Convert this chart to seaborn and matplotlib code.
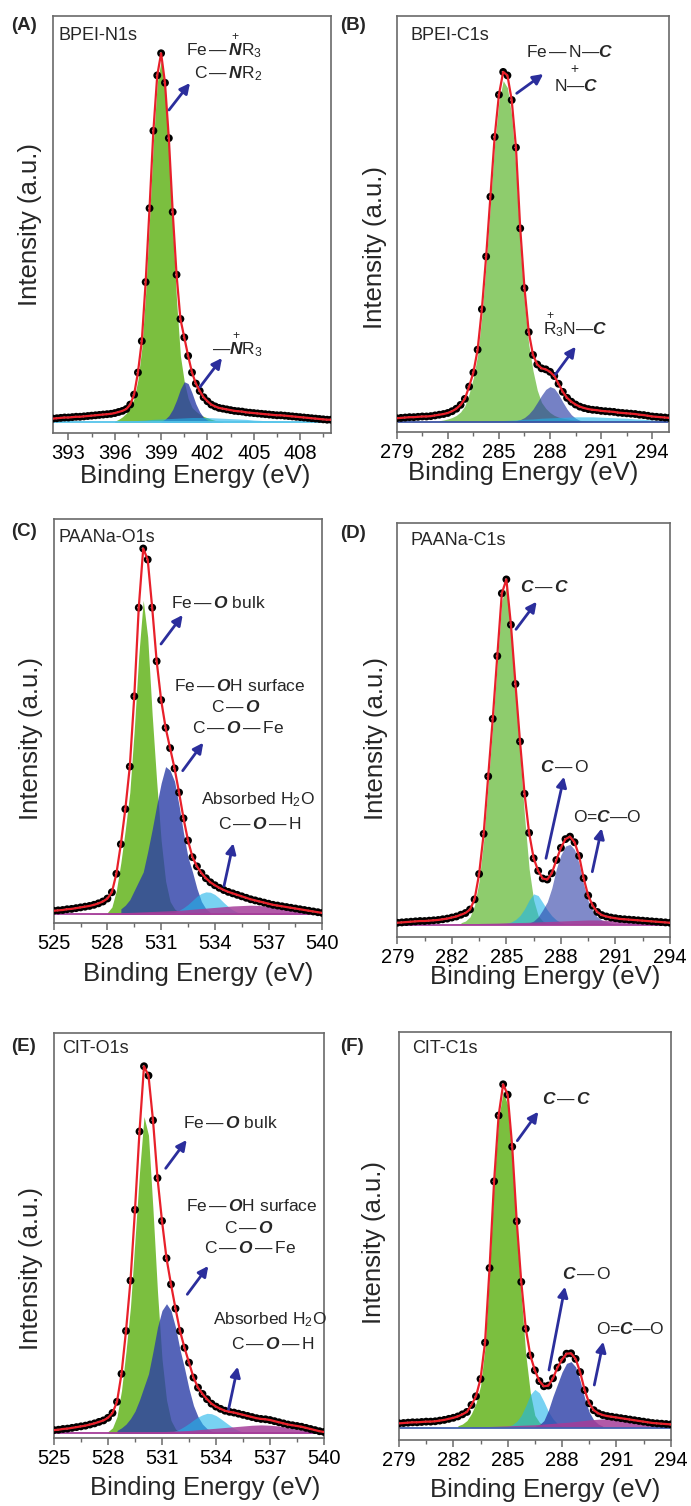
import numpy as np
import matplotlib
matplotlib.use("Agg")
import matplotlib.pyplot as plt
from matplotlib.ticker import MultipleLocator
import seaborn as sns

# XPS spectra. Intensity is normalised so the main peak is ~100.
# Each series starts at *_start and runs in 0.25 eV steps (0.5 eV for the broad ones).

# (A) BPEI-N1s
a_start = 392.0
a_counts = [1.0, 1.1, 1.2, 1.3, 1.3, 1.4, 1.5, 1.5, 1.6, 1.7, 1.8, 1.9, 2.0, 2.1, 2.2, 2.3,
            2.5, 2.8, 3.1, 3.6, 4.8, 7.5, 13.5, 22, 38, 58, 79, 94, 100, 92, 77, 57,
            40, 28, 23, 18, 13.5, 10.5, 8.5, 6.8, 5.7, 4.8, 4.3, 3.9, 3.7, 3.5, 3.3, 3.1,
            3.0, 2.9, 2.7, 2.6, 2.5, 2.4, 2.3, 2.2, 2.1, 2.0, 1.9, 1.9, 1.8, 1.7, 1.6, 1.5,
            1.4, 1.3, 1.2, 1.1, 1.0, 0.9, 0.8, 0.7, 0.7]
a_green_start = 396.0
a_green = [0.3, 0.8, 1.5, 2.5, 4.0, 6.5, 11.5, 20, 35, 55, 76, 92, 98, 90, 74, 53,
           33, 18, 11, 6.5, 4.0, 3.0, 2.2, 1.6, 1.2, 0.8, 0.5, 0.3, 0.1]
a_blue_start = 399.0
a_blue = [0.3, 0.8, 1.8, 3.5, 6, 9, 11, 10.5, 8, 5, 2.8, 1.3, 0.6, 0.2]
a_cyan_start = 396.0
a_cyan = [0.1, 0.2, 0.3, 0.5, 0.6, 0.8, 0.9, 1.0, 1.1, 1.2, 1.3, 1.3, 1.3, 1.2, 1.1, 1.0,
          0.9, 0.8, 0.6, 0.5, 0.4, 0.3, 0.2, 0.1, 0.0]

# (B) BPEI-C1s
b_start = 279.0
b_counts = [1.0, 1.1, 1.2, 1.3, 1.3, 1.4, 1.5, 1.5, 1.6, 1.8, 2.0, 2.2, 2.5, 3.0, 3.7, 4.8,
            6.5, 10, 14, 20.5, 32, 47, 64, 81, 93, 99.5, 98.5, 91.5, 78, 55, 38, 25.5,
            19, 16.3, 15.2, 14.9, 14.2, 13.0, 10.8, 8.5, 6.8, 5.7, 4.9, 4.3, 3.9, 3.6, 3.4, 3.3,
            3.1, 3.0, 2.9, 2.8, 2.6, 2.5, 2.4, 2.3, 2.2, 2.0, 1.9, 1.7, 1.5, 1.4, 1.3, 1.2, 1.1]
b_green_start = 281.5
b_green = [0.3, 0.5, 0.8, 1.2, 1.8, 2.8, 4.5, 8, 12.5, 19, 30, 45, 62, 79, 91, 97,
           95, 87, 72, 50, 34, 22, 14.5, 9, 5.5, 3.8, 2.6, 1.8, 1.3, 1.0, 0.8, 0.6,
           0.5, 0.4, 0.3, 0.2, 0.1]
b_blue_start = 286.0
b_blue = [0.3, 0.6, 1.2, 2.2, 3.6, 5.5, 7.5, 9.2, 10, 9.5, 7.8, 5.6, 3.6, 2.0, 1.0, 0.4]
b_cyan_start = 284.0
b_cyan = [0.1, 0.2, 0.3, 0.4, 0.5, 0.7, 0.8, 1.0, 1.1, 1.2, 1.3, 1.4, 1.4, 1.4, 1.3, 1.2,
          1.1, 1.0, 0.8, 0.7, 0.5, 0.4, 0.3]

# (C) PAANa-O1s
c_start = 525.0
c_counts = [1.0, 1.1, 1.2, 1.4, 1.5, 1.7, 1.9, 2.1, 2.3, 2.6, 3.0, 3.5, 4.3, 6.0, 11, 19,
            28.5, 40, 59, 83, 99, 96, 83, 68.5, 58, 50.5, 45, 39.5, 33, 26, 20, 15.5,
            13, 11.2, 9.8, 8.7, 7.9, 7.2, 6.6, 6.1, 5.7, 5.3, 4.9, 4.5, 4.1, 3.8, 3.5, 3.2,
            2.9, 2.6, 2.4, 2.2, 2.0, 1.8, 1.6, 1.4, 1.2, 1.0, 0.8, 0.6, 0.4]
c_green_start = 528.0
c_green = [0.5, 2, 6.5, 14, 23, 33, 50, 70, 85, 75, 54, 36, 20, 9, 3.5, 1.5, 0.5]
c_blue_start = 528.75
c_blue = [1.5, 2.5, 4, 6.5, 9, 11.5, 17, 23, 29.5, 35.5, 40, 39, 36, 29.5, 22, 15.5,
          11.5, 7, 3.5, 1.5, 0.5]
c_cyan_start = 531.5
c_cyan = [0.3, 0.6, 1.1, 1.8, 2.7, 3.8, 4.9, 5.7, 6.1, 6.0, 5.4, 4.4, 3.2, 2.1, 1.2, 0.6,
          0.3, 0.1]
c_mag_start = 527.0
c_mag = [0.1, 0.2, 0.3, 0.4, 0.5, 0.6, 0.7, 0.8, 0.9, 1.0, 1.1, 1.3, 1.5, 1.7, 1.9, 2.1,
         2.3, 2.4, 2.5, 2.4, 2.2, 1.9, 1.5, 1.1, 0.8, 0.5, 0.3]

# (D) PAANa-C1s
d_start = 279.0
d_counts = [0.5, 0.6, 0.7, 0.8, 0.9, 1.0, 1.0, 1.1, 1.2, 1.3, 1.5, 1.7, 2.0, 2.3, 2.8, 3.3,
            4.3, 7.2, 14.5, 26, 42.5, 59, 77, 95, 99, 86, 69, 52.5, 37.5, 26.3, 19, 15.4,
            13.2, 12.9, 14.7, 18.5, 22, 24.5, 25.2, 23.6, 19.7, 13.3, 8.3, 5.4, 3.6, 2.7, 2.3, 2.0,
            1.8, 1.6, 1.5, 1.4, 1.3, 1.2, 1.1, 1.0, 0.9, 0.8, 0.7, 0.6, 0.5]
d_green_start = 282.5
d_green = [0.5, 1.0, 2.2, 5.5, 12.5, 24, 40.5, 57, 75, 93, 97, 84, 66, 49, 31, 16,
           7, 2.5, 1.0, 0.3]
d_cyan_start = 285.0
d_cyan = [0.3, 0.7, 1.4, 2.6, 4.5, 7, 8.8, 8.3, 6.3, 4.2, 2.5, 1.3, 0.6, 0.2]
d_blue_start = 286.25
d_blue = [0.4, 1.0, 2.2, 4.2, 6.5, 10.5, 16, 20, 22.5, 23, 21.5, 17.5, 11.5, 6.8, 3.9, 2.2,
          1.3, 0.8, 0.4, 0.2]
d_mag_start = 282.0
d_mag = [0.1, 0.15, 0.2, 0.3, 0.35, 0.4, 0.5, 0.55, 0.6, 0.7, 0.8, 0.9, 1.0, 1.1, 1.2, 1.3,
         1.3, 1.2, 1.1, 0.9, 0.7, 0.5, 0.35, 0.2, 0.1]

# (E) CIT-O1s
e_start = 525.0
e_counts = [0.9, 1.0, 1.2, 1.3, 1.5, 1.7, 1.9, 2.1, 2.4, 2.7, 3.1, 3.5, 4.2, 5.5, 8.5, 16,
            27.5, 41, 60, 81, 98.5, 96, 84, 68.5, 57, 47, 40, 33.5, 27.5, 23, 19, 15,
            12.3, 10.6, 9.2, 8.0, 7.2, 6.6, 6.1, 5.8, 5.6, 5.3, 5.0, 4.7, 4.4, 4.1, 3.9, 3.8,
            3.6, 3.3, 3.0, 2.7, 2.4, 2.2, 2.0, 1.8, 1.5, 1.2, 0.9, 0.6, 0.4]
e_green_start = 528.0
e_green = [0.5, 1.5, 4.5, 11.5, 22, 34, 52, 70, 85, 80, 60, 38, 20, 9, 3.5, 1.2, 0.3]
e_blue_start = 528.5
e_blue = [0.8, 1.5, 2.5, 4, 6, 9, 12.5, 16, 22, 28.5, 33, 34.8, 33, 28.5, 22.5, 17.5,
          12, 7.5, 4.5, 2.5, 1.3, 0.6, 0.2]
e_cyan_start = 531.5
e_cyan = [0.3, 0.7, 1.2, 1.9, 2.7, 3.6, 4.4, 5.0, 5.4, 5.3, 4.8, 4.0, 3.1, 2.2, 1.4, 0.8,
          0.4, 0.2, 0.1]
e_mag_start = 529.0
e_mag = [0.1, 0.2, 0.3, 0.4, 0.5, 0.6, 0.7, 0.8, 1.0, 1.2, 1.4, 1.6, 1.8, 2.0, 2.2, 2.3,
         2.2, 2.0, 1.6, 1.2, 0.8, 0.5, 0.3]

# (F) CIT-C1s
f_start = 279.0
f_counts = [1.2, 1.3, 1.4, 1.5, 1.5, 1.6, 1.7, 1.7, 1.8, 2.0, 2.2, 2.5, 2.8, 3.2, 3.8, 4.5,
            6.5, 9.0, 14, 24.5, 46, 71, 90, 99, 96, 81, 59.5, 42, 28.5, 20.8, 16.5, 13.4,
            11.9, 12.1, 14.2, 17.3, 19.6, 21.3, 21.4, 19.8, 16.0, 10.8, 7.0, 5.0, 4.1, 3.6, 3.3, 3.1,
            2.9, 2.7, 2.5, 2.3, 2.1, 1.9, 1.7, 1.5, 1.3, 1.2, 1.1, 1.0, 0.9]
f_green_start = 282.25
f_green = [0.5, 1.0, 2.0, 4.0, 7.0, 12, 23, 45, 71, 89, 97, 93, 77, 56, 38, 21,
           10, 3.5, 1.5, 0.5, 0.2]
f_cyan_start = 285.0
f_cyan = [0.3, 0.8, 1.8, 3.5, 6.3, 9.5, 11, 10, 7.5, 4.6, 2.5, 1.1, 0.4, 0.1]
f_blue_start = 286.5
f_blue = [0.3, 0.8, 2.0, 5.0, 9.0, 12.5, 16, 18.5, 19, 17.5, 13.5, 8.5, 4.5, 2.2, 1.0, 0.4]
f_mag_start = 283.0
f_mag = [0.1, 0.2, 0.3, 0.4, 0.5, 0.6, 0.7, 0.8, 1.0, 1.2, 1.4, 1.6, 1.9, 2.2, 2.4, 2.6,
         2.7, 2.5, 2.2, 1.8, 1.3, 0.8, 0.4]

# ---------------------------------------------------------------- style
sns.set_theme(style="ticks")
plt.rcParams["font.family"] = ["Liberation Sans", "DejaVu Sans"]
plt.rcParams["mathtext.fontset"] = "custom"
plt.rcParams["mathtext.rm"] = "Liberation Sans"
plt.rcParams["mathtext.it"] = "Liberation Sans:italic"
plt.rcParams["mathtext.bf"] = "Liberation Sans:bold"
plt.rcParams["mathtext.bfit"] = "Liberation Sans:italic:bold"

W, H = 691, 1506
GREEN = "#7BBF3F"
GREEN_L = "#8ECC6D"
BLUE = "#2B3DA6"
CYAN = "#1FB5EA"
MAG = "#A53D99"
RED = "#E8202A"
ARROW = "#2B2E9C"
SPINE = "#6A6A6A"
ANN = 12.5


def energies(start, n, step=0.25):
    return start + step * np.arange(n)


def fxy(x, y):
    # pixel position in the reference -> figure fraction
    return x / W, 1 - y / H


# fill components: (start, step, values, colour, alpha)
panels = [
    dict(tag="(A)", tag_xy=(11, 29.5), name="BPEI-N1s", name_xy=(59, 39.5),
         box=(53, 16, 331, 433), xlim=(392, 410), ylim=(-2.9, 110.1),
         start=a_start, counts=a_counts, base="#55C4EA",
         comps=[(a_green_start, 0.25, a_green, GREEN, 1.0),
                (a_blue_start, 0.25, a_blue, BLUE, 0.8),
                (a_cyan_start, 0.5, a_cyan, CYAN, 0.6)],
         xlab=(195.5, 483), ylab=(30, 224),
         texts=[(r"Fe$\,$—$\,\overset{+}{\mathbfit{N}}$R$_3$", 262, 56, "right"),
                (r"C$\,$—$\,\mathbfit{N}$R$_2$", 262, 78.5, "right"),
                (r"—$\overset{+}{\mathbfit{N}}$R$_3$", 263, 355, "right")],
         arrows=[((169, 110), (190, 83)), ((200, 387), (222, 358))]),
    dict(tag="(B)", tag_xy=(340, 29.5), name="BPEI-C1s", name_xy=(410, 39.5),
         box=(396.7, 16, 669.3, 432.3), xlim=(279, 295), ylim=(-3.0, 115.4),
         start=b_start, counts=b_counts, base="#3B53A4",
         comps=[(b_green_start, 0.25, b_green, GREEN_L, 1.0),
                (b_blue_start, 0.25, b_blue, BLUE, 0.65),
                (b_cyan_start, 0.5, b_cyan, CYAN, 0.6)],
         xlab=(523, 480), ylab=(375, 247.5),
         texts=[(r"Fe$\,$—$\,$N—$\mathbfit{C}$", 569.5, 56.7, "center"),
                ("+", 574, 73, "center"),
                (r"N—$\mathbfit{C}$", 576, 90.7, "center"),
                (r"$\overset{+}{\mathrm{R}}_3$N—$\mathbfit{C}$", 543, 335, "left")],
         arrows=[((516.7, 93.3), (543.3, 74)), ((555, 375), (575.7, 346.7))]),
    dict(tag="(C)", tag_xy=(11, 536.5), name="PAANa-O1s", name_xy=(59, 541.7),
         box=(53.7, 519.3, 322.3, 923.3), xlim=(525, 540), ylim=(-2.4, 106.9),
         start=c_start, counts=c_counts, base=MAG,
         comps=[(c_green_start, 0.25, c_green, GREEN, 1.0),
                (c_blue_start, 0.25, c_blue, BLUE, 0.8),
                (c_cyan_start, 0.25, c_cyan, CYAN, 0.6),
                (c_mag_start, 0.5, c_mag, MAG, 0.85)],
         xlab=(198, 981), ylab=(31, 739),
         texts=[(r"Fe$\,$—$\,\mathbfit{O}$ bulk", 171, 608.3, "left"),
                (r"Fe$\,$—$\,\mathbfit{O}$H surface", 239.5, 690.7, "center"),
                (r"C$\,$—$\,\mathbfit{O}$", 236, 712.3, "center"),
                (r"C$\,$—$\,\mathbfit{O}\,$—$\,$Fe", 238, 732.7, "center"),
                (r"Absorbed H$_2$O", 257.5, 804, "center"),
                (r"C$\,$—$\,\mathbfit{O}\,$—$\,$H", 259.5, 829, "center")],
         arrows=[((161, 644), (182.7, 615)), ((182.7, 770.7), (203.3, 742.7)),
                 ((224, 886), (233.3, 843.3))]),
    dict(tag="(D)", tag_xy=(340, 538.3), name="PAANa-C1s", name_xy=(410, 545),
         box=(397.3, 523.3, 670, 936.7), xlim=(279, 294), ylim=(-3.5, 115.1),
         start=d_start, counts=d_counts, base=MAG,
         comps=[(d_green_start, 0.25, d_green, GREEN_L, 1.0),
                (d_cyan_start, 0.25, d_cyan, CYAN, 0.6),
                (d_blue_start, 0.25, d_blue, BLUE, 0.6),
                (d_mag_start, 0.5, d_mag, MAG, 0.85)],
         xlab=(545.5, 984), ylab=(376, 739),
         texts=[(r"$\mathbfit{C}\,$—$\,\mathbfit{C}$", 520, 591.7, "left"),
                (r"$\mathbfit{C}\,$—$\,$O", 540, 772.3, "left"),
                (r"O=$\mathbfit{C}$—O", 573, 822.3, "left")],
         arrows=[((516, 629.3), (536.7, 601.7)), ((546, 858.3), (564, 776.7)),
                 ((592.3, 871.7), (601.7, 828.3))]),
    dict(tag="(E)", tag_xy=(11, 1050.7), name="CIT-O1s", name_xy=(62, 1053.3),
         box=(54, 1032.7, 324, 1438.3), xlim=(525, 540), ylim=(-1.3, 107.5),
         start=e_start, counts=e_counts, base=MAG,
         comps=[(e_green_start, 0.25, e_green, GREEN, 1.0),
                (e_blue_start, 0.25, e_blue, BLUE, 0.8),
                (e_cyan_start, 0.25, e_cyan, CYAN, 0.6),
                (e_mag_start, 0.5, e_mag, MAG, 0.85)],
         xlab=(205, 1495), ylab=(31, 1269),
         texts=[(r"Fe$\,$—$\,\mathbfit{O}$ bulk", 183, 1128.3, "left"),
                (r"Fe$\,$—$\,\mathbfit{O}$H surface", 252, 1210.7, "center"),
                (r"C$\,$—$\,\mathbfit{O}$", 248.5, 1232.7, "center"),
                (r"C$\,$—$\,\mathbfit{O}\,$—$\,$Fe", 249.5, 1253.3, "center"),
                (r"Absorbed H$_2$O", 269.5, 1324, "center"),
                (r"C$\,$—$\,\mathbfit{O}\,$—$\,$H", 272.5, 1349.3, "center")],
         arrows=[((165.7, 1168.3), (186.7, 1140)), ((187.3, 1294.3), (208.3, 1266)),
                 ((228.3, 1410.7), (237.7, 1366.7))]),
    dict(tag="(F)", tag_xy=(340, 1050.7), name="CIT-C1s", name_xy=(412, 1053.3),
         box=(399, 1032.3, 670.7, 1440), xlim=(279, 294), ylim=(-3.6, 114.0),
         start=f_start, counts=f_counts, base="#4262B0",
         comps=[(f_green_start, 0.25, f_green, GREEN, 1.0),
                (f_cyan_start, 0.25, f_cyan, CYAN, 0.6),
                (f_blue_start, 0.25, f_blue, BLUE, 0.8),
                (f_mag_start, 0.5, f_mag, MAG, 0.85)],
         xlab=(545, 1496.7), ylab=(374, 1243),
         texts=[(r"$\mathbfit{C}\,$—$\,\mathbfit{C}$", 542, 1104.3, "left"),
                (r"$\mathbfit{C}\,$—$\,$O", 562, 1279.3, "left"),
                (r"O=$\mathbfit{C}$—O", 596, 1334.3, "left")],
         arrows=[((517.3, 1140.7), (538.3, 1111.7)), ((549, 1370), (565, 1286.7)),
                 ((594.3, 1385), (603.3, 1341.7))]),
]

fig = plt.figure(figsize=(W / 100, H / 100), dpi=100)

for p in panels:
    x0, y0, x1, y1 = p["box"]
    ax = fig.add_axes([x0 / W, 1 - y1 / H, (x1 - x0) / W, (y1 - y0) / H])

    for start, step, vals, color, alpha in p["comps"]:
        xs = energies(start, len(vals), step)
        ax.fill_between(xs, 0, vals, color=color, alpha=alpha, lw=0, zorder=1)
    ax.axhline(0, color=p["base"], lw=1.3, zorder=1.5)

    xs = energies(p["start"], len(p["counts"]))
    sns.scatterplot(x=xs, y=p["counts"], ax=ax, color="black", s=32,
                    edgecolor="none", zorder=3, legend=False)
    sns.scatterplot(x=xs - 0.03, y=p["counts"], ax=ax, color="white", s=2,
                    edgecolor="none", zorder=3.1, legend=False, alpha=0.8)
    sns.lineplot(x=xs, y=p["counts"], ax=ax, color=RED, lw=1.6, zorder=4,
                 estimator=None, sort=False)

    ax.set_xlim(*p["xlim"])
    ax.set_ylim(*p["ylim"])
    ax.xaxis.set_major_locator(MultipleLocator(3))
    ax.xaxis.set_minor_locator(MultipleLocator(1.5))
    ax.tick_params(axis="x", which="major", direction="out", length=5, width=1.1,
                   color=SPINE, labelsize=14.5, pad=3, labelcolor="black")
    ax.tick_params(axis="x", which="minor", direction="out", length=3, width=1.0,
                   color=SPINE)
    ax.tick_params(axis="y", left=False, labelleft=False)
    for sp in ax.spines.values():
        sp.set_color(SPINE)
        sp.set_linewidth(1.2)

    w = x1 - x0
    h = y1 - y0
    ax.set_xlabel("Binding Energy (eV)", fontsize=18.5, va="baseline")
    ax.xaxis.set_label_coords((p["xlab"][0] - x0) / w, -(p["xlab"][1] - y1) / h)
    ax.set_ylabel("Intensity (a.u.)", fontsize=18.5, va="center")
    ax.yaxis.set_label_coords((p["ylab"][0] - x0) / w, (y1 - p["ylab"][1]) / h)

    fig.text(*fxy(*p["tag_xy"]), p["tag"], fontsize=13.5, fontweight="bold",
             ha="left", va="baseline")
    fig.text(*fxy(*p["name_xy"]), p["name"], fontsize=13, ha="left", va="baseline")
    for s, tx, ty, ha in p["texts"]:
        fs = 10 if s == "+" else ANN
        fig.text(*fxy(tx, ty), s, fontsize=fs, ha=ha, va="baseline")
    for tail, tip in p["arrows"]:
        ax.annotate("", xy=fxy(*tip), xytext=fxy(*tail),
                    xycoords="figure fraction", textcoords="figure fraction",
                    arrowprops=dict(arrowstyle="-|>,head_length=0.6,head_width=0.3",
                                    color=ARROW, lw=2.0, shrinkA=0, shrinkB=0,
                                    mutation_scale=10))

fig.savefig("out.png", dpi=100)
